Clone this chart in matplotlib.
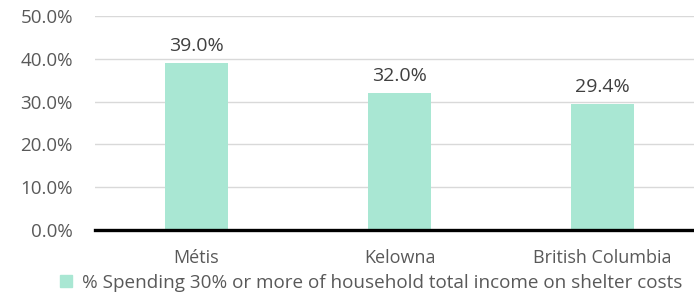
import matplotlib.pyplot as plt
from matplotlib.patches import Patch

categories = ["Métis", "Kelowna", "British Columbia"]
values = [39.0, 32.0, 29.4]
series_name = "% Spending 30% or more of household total income on shelter costs"

plt.rcParams['font.family'] = ['Open Sans', 'DejaVu Sans']
text_col = '#595959'
bar_col = '#A9E7D3'
fs = 13

fig = plt.figure(figsize=(6.94, 2.94), dpi=100)
ax = fig.add_axes([95/694, 64/294, 609/694, 214/294])

x = range(len(categories))
bars = ax.bar(x, values, width=0.315, color=bar_col, zorder=2)
for b, v in zip(bars, values):
    ax.annotate(f"{v:.1f}%", (b.get_x() + b.get_width()/2, v),
                xytext=(0, 8.5), textcoords='offset points',
                ha='center', va='baseline', fontsize=14, color='#404040')

ax.set_xlim(-0.5, 2.5)
ax.set_ylim(0, 50)
ax.set_yticks(range(0, 51, 10))
ax.set_yticklabels([f"{t:.1f}%" for t in range(0, 51, 10)])
ax.set_xticks(list(x))
ax.set_xticklabels(categories)
ax.tick_params(axis='both', length=0, labelsize=fs, colors=text_col)
ax.tick_params(axis='y', pad=16, labelsize=13.5)
ax.tick_params(axis='x', pad=14)
ax.grid(axis='y', color='#D9D9D9', lw=1, zorder=0)
for s in ax.spines.values():
    s.set_visible(False)
ax.axhline(0, color='black', lw=2.4, zorder=3, clip_on=False)

fig.legend(handles=[Patch(color=bar_col, label=series_name)],
           loc='center', bbox_to_anchor=(0.535, (294-283)/294),
           frameon=False, fontsize=13.6, labelcolor=text_col,
           handlelength=0.65, handleheight=0.6, handletextpad=0.55,
           borderpad=0)

fig.savefig('out.png', dpi=100)
